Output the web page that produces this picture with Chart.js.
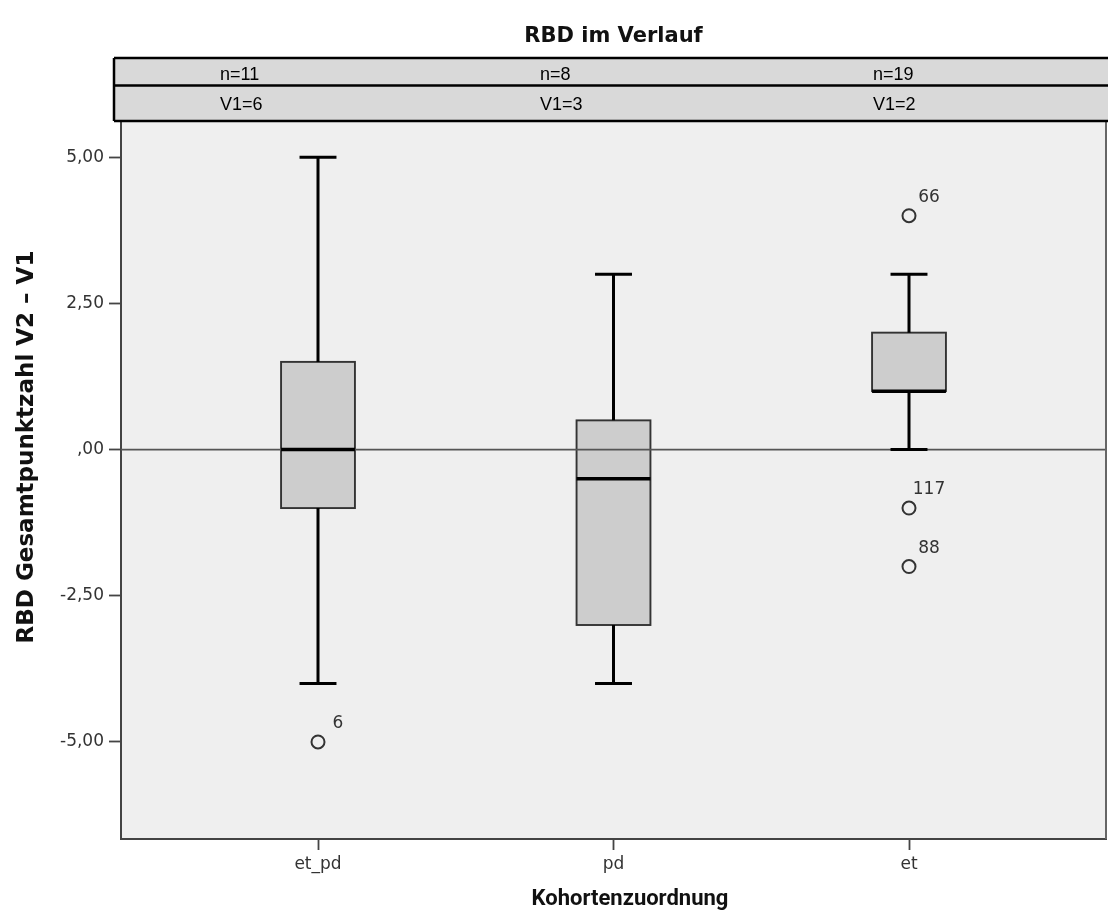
<!DOCTYPE html>
<html>
<head>
<meta charset="utf-8">
<title>RBD im Verlauf</title>
<script src="https://cdn.jsdelivr.net/npm/chart.js@4.4.1/dist/chart.umd.min.js"></script>
<style>
  html, body { margin: 0; padding: 0; background: #fff; overflow: hidden; }
  #chart { display: block; }
</style>
</head>
<body>
<canvas id="chart" width="1108" height="918"></canvas>
<script>
// ===== Daten =====
const categories = ['et_pd', 'pd', 'et'];
const whiskerLow = [-4, -4, 0];
const quartile1 = [-1, -3, 1];
const medians = [0, -0.5, 1];
const quartile3 = [1.5, 0.5, 2];
const whiskerHigh = [5, 3, 3];

// Ausreißer: Gruppe (Index), Wert, Fallnummer
const outlierGroup = [0, 2, 2, 2];
const outlierValues = [-5, 4, -1, -2];
const outlierIds = ['6', '66', '117', '88'];

// Kopfzeilen der Tabelle
const nCounts = ['n=11', 'n=8', 'n=19'];
const v1Counts = ['V1=6', 'V1=3', 'V1=2'];

const yTicks = [-5, -2.5, 0, 2.5, 5];

// ===== Stil =====
const FONT = '"DejaVu Sans", sans-serif';
const BOX_HALF = 0.125;   // halbe Boxbreite in x-Einheiten
const CAP_HALF = 0.0625;  // halbe Whisker-Kappe

// Zahl im SPSS-Stil formatieren (5,00 / ,00 / -2,50)
function formatTick(v) {
    let s = v.toFixed(2).replace('.', ',');
    if (s.startsWith('0,')) s = s.slice(1);
    return s;
}

const boxPlotPlugin = {
    id: 'boxPlot',
    beforeDraw(chart) {
        const { ctx, chartArea: a } = chart;
        ctx.save();
        ctx.fillStyle = '#efefef';
        ctx.fillRect(a.left, a.top, a.right - a.left, a.bottom - a.top);
        ctx.restore();
    },
    beforeDatasetsDraw(chart) {
        const { ctx, chartArea: a, scales: { x, y } } = chart;
        ctx.save();

        // Boxen
        categories.forEach((c, i) => {
            const x0 = x.getPixelForValue(i + 1 - BOX_HALF);
            const x1 = x.getPixelForValue(i + 1 + BOX_HALF);
            const yTop = y.getPixelForValue(quartile3[i]);
            const yBot = y.getPixelForValue(quartile1[i]);
            ctx.fillStyle = '#cdcdcd';
            ctx.fillRect(x0, yTop, x1 - x0, yBot - yTop);
            ctx.strokeStyle = '#333';
            ctx.lineWidth = 1.9;
            ctx.strokeRect(x0, yTop, x1 - x0, yBot - yTop);
        });

        // Referenzlinie bei 0
        const y0 = y.getPixelForValue(0);
        ctx.strokeStyle = '#555';
        ctx.lineWidth = 1.6;
        ctx.beginPath();
        ctx.moveTo(a.left, y0);
        ctx.lineTo(a.right, y0);
        ctx.stroke();

        // Whisker, Kappen, Median
        ctx.strokeStyle = '#000';
        categories.forEach((c, i) => {
            const xc = x.getPixelForValue(i + 1);
            const cx0 = x.getPixelForValue(i + 1 - CAP_HALF);
            const cx1 = x.getPixelForValue(i + 1 + CAP_HALF);
            const bx0 = x.getPixelForValue(i + 1 - BOX_HALF);
            const bx1 = x.getPixelForValue(i + 1 + BOX_HALF);

            ctx.lineWidth = 3;
            ctx.beginPath();
            ctx.moveTo(xc, y.getPixelForValue(quartile3[i]));
            ctx.lineTo(xc, y.getPixelForValue(whiskerHigh[i]));
            ctx.moveTo(xc, y.getPixelForValue(quartile1[i]));
            ctx.lineTo(xc, y.getPixelForValue(whiskerLow[i]));
            ctx.moveTo(cx0, y.getPixelForValue(whiskerHigh[i]));
            ctx.lineTo(cx1, y.getPixelForValue(whiskerHigh[i]));
            ctx.moveTo(cx0, y.getPixelForValue(whiskerLow[i]));
            ctx.lineTo(cx1, y.getPixelForValue(whiskerLow[i]));
            ctx.stroke();

            ctx.lineWidth = 3.5;
            ctx.beginPath();
            ctx.moveTo(bx0, y.getPixelForValue(medians[i]));
            ctx.lineTo(bx1, y.getPixelForValue(medians[i]));
            ctx.stroke();
        });
        ctx.restore();
    },
    afterDatasetsDraw(chart) {
        const { ctx, chartArea: a, scales: { x, y } } = chart;
        ctx.save();

        // Fallnummern an den Ausreißern
        ctx.fillStyle = '#333';
        ctx.font = '17px ' + FONT;
        ctx.textAlign = 'center';
        ctx.textBaseline = 'alphabetic';
        outlierValues.forEach((v, k) => {
            const px = x.getPixelForValue(outlierGroup[k] + 1);
            const py = y.getPixelForValue(v);
            ctx.fillText(outlierIds[k], px + 20, py - 14);
        });

        // rechter Rahmen
        ctx.strokeStyle = '#666';
        ctx.lineWidth = 2;
        ctx.beginPath();
        ctx.moveTo(a.right, a.top);
        ctx.lineTo(a.right, a.bottom);
        ctx.stroke();
        ctx.restore();
    },
    afterDraw(chart) {
        const { ctx, chartArea: a } = chart;
        ctx.save();

        // Tabelle über dem Diagramm
        const tLeft = 114, tTop = 58, tMid = 85.5, tBot = a.top;
        ctx.fillStyle = '#d9d9d9';
        ctx.fillRect(tLeft, tTop, chart.width - tLeft + 2, tBot - tTop);
        ctx.strokeStyle = '#000';
        ctx.lineWidth = 2.5;
        ctx.beginPath();
        ctx.moveTo(tLeft, tTop); ctx.lineTo(chart.width + 2, tTop);
        ctx.moveTo(tLeft, tMid); ctx.lineTo(chart.width + 2, tMid);
        ctx.moveTo(tLeft, tBot); ctx.lineTo(chart.width + 2, tBot);
        ctx.moveTo(tLeft, tTop); ctx.lineTo(tLeft, tBot);
        ctx.stroke();

        const textX = [220, 540, 873];
        ctx.fillStyle = '#000';
        ctx.font = '18px "Liberation Sans", Arial, sans-serif';
        ctx.textAlign = 'left';
        ctx.textBaseline = 'alphabetic';
        nCounts.forEach((t, i) => ctx.fillText(t, textX[i], 80));
        v1Counts.forEach((t, i) => ctx.fillText(t, textX[i], 110));

        // Titel
        const midX = (a.left + a.right) / 2;
        ctx.fillStyle = '#111';
        ctx.textAlign = 'center';
        ctx.font = 'bold 21px ' + FONT;
        ctx.fillText('RBD im Verlauf', midX, 42);

        // Achsentitel
        ctx.font = 'bold 22px Roboto, ' + FONT;
        ctx.textBaseline = 'middle';
        ctx.fillText('Kohortenzuordnung', 630, 899);

        ctx.font = 'bold 23px ' + FONT;
        ctx.translate(27, 447);
        ctx.rotate(-Math.PI / 2);
        ctx.fillText('RBD Gesamtpunktzahl V2 \u2013 V1', 0, 0);
        ctx.restore();
    }
};

const chart = new Chart(document.getElementById('chart'), {
    type: 'scatter',
    data: {
        datasets: [{
            label: 'Ausreißer',
            data: outlierValues.map((v, k) => ({ x: outlierGroup[k] + 1, y: v })),
            pointRadius: 6.5,
            pointHoverRadius: 6.5,
            pointBorderWidth: 2,
            pointBorderColor: '#333',
            pointBackgroundColor: 'rgba(0,0,0,0)'
        }]
    },
    options: {
        responsive: false,
        devicePixelRatio: 1,
        animation: false,
        layout: { autoPadding: false, padding: { top: 121, right: 2, left: 0, bottom: 0 } },
        plugins: {
            legend: { display: false },
            tooltip: { enabled: false },
            title: { display: false }
        },
        scales: {
            x: {
                type: 'linear',
                min: 1 / 3,
                max: 11 / 3,
                afterFit: (s) => { s.height = 79; },
                afterBuildTicks: (s) => { s.ticks = categories.map((c, i) => ({ value: i + 1 })); },
                ticks: {
                    callback: (v) => categories[v - 1],
                    color: '#333',
                    font: { family: FONT, size: 17 },
                    padding: 4,
                    maxRotation: 0
                },
                grid: { drawOnChartArea: false, tickLength: 11, tickColor: '#444', tickWidth: 1.8 },
                border: { color: '#444', width: 2 }
            },
            y: {
                min: -6.66,
                max: 5.62,
                afterFit: (s) => { s.width = 121; },
                afterBuildTicks: (s) => { s.ticks = yTicks.map(v => ({ value: v })); },
                ticks: {
                    callback: (v) => formatTick(v),
                    color: '#333',
                    font: { family: FONT, size: 17 },
                    padding: 5
                },
                grid: { drawOnChartArea: false, tickLength: 12, tickColor: '#444', tickWidth: 1.8 },
                border: { color: '#444', width: 2 }
            }
        }
    },
    plugins: [boxPlotPlugin]
});
</script>
</body>
</html>
